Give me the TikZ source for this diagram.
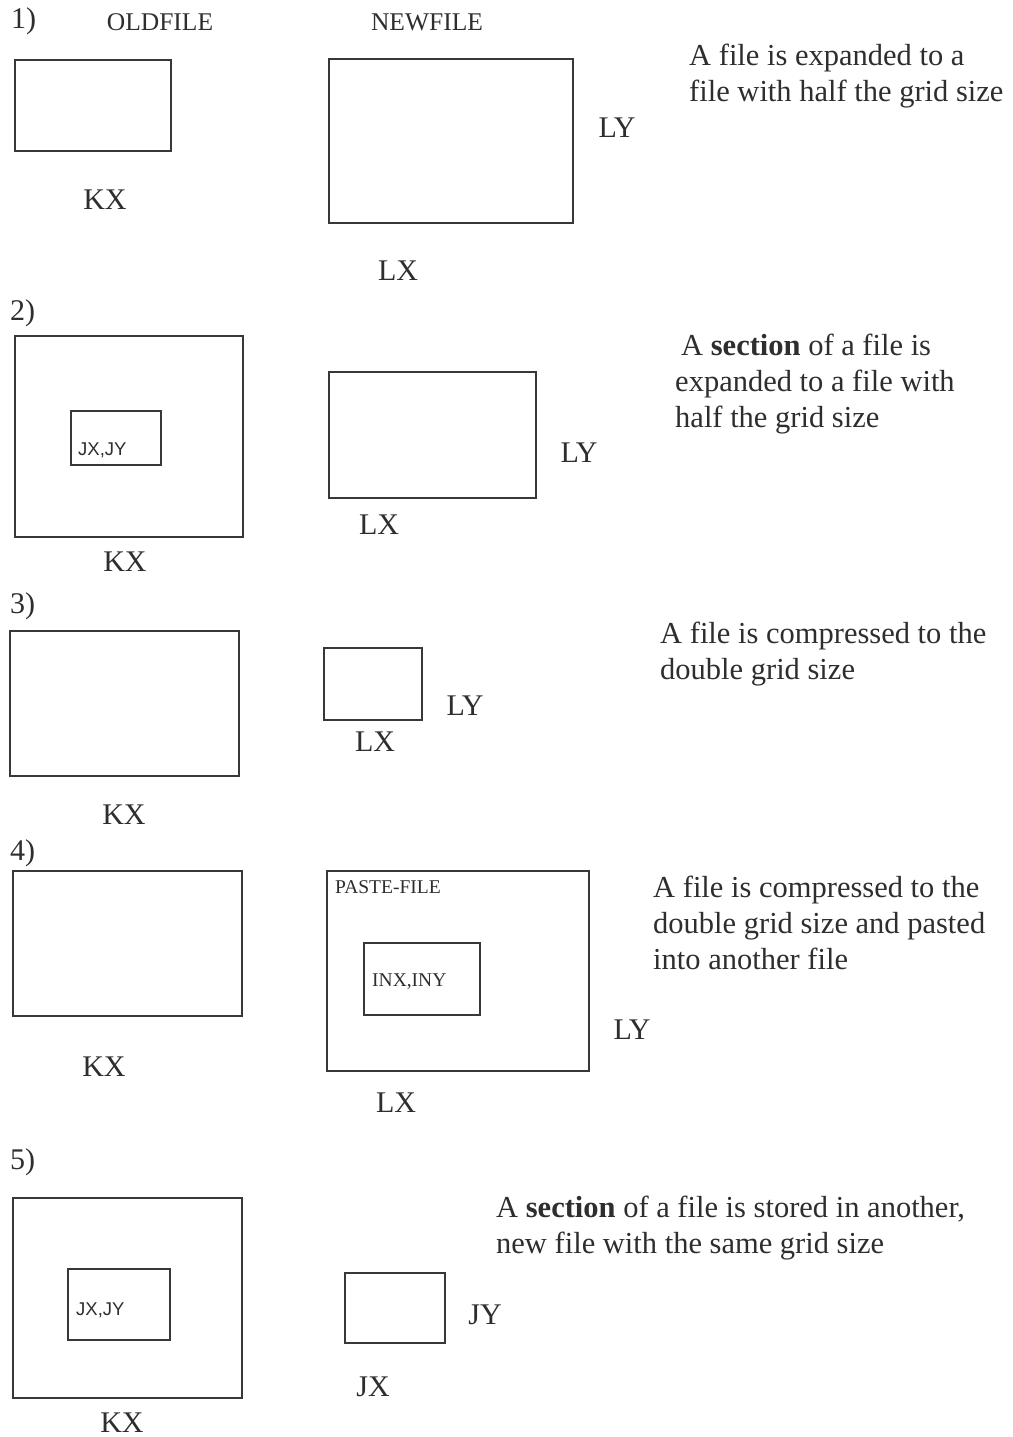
\documentclass[tikz,border=0pt]{standalone}
\usepackage{fontspec}
\setmainfont{Liberation Serif}
\newfontfamily\arialfont{Liberation Sans}
\begin{document}
\begin{tikzpicture}[x=1pt,y=-1pt,
  box/.style={draw=black!78,line width=1.6pt},
  lbl/.style={inner sep=0pt,text=black!82,font=\fontsize{30}{36}\selectfont},
  hdr/.style={inner sep=0pt,text=black!82,font=\fontsize{25.5}{30}\selectfont},
  num/.style={inner sep=0pt,text=black!82,anchor=west,font=\fontsize{30}{36}\selectfont},
  desc/.style={inner sep=0pt,text=black!82,anchor=north west,align=left,font=\fontsize{30.5}{36}\selectfont},
  small/.style={inner sep=0pt,text=black!82,anchor=west,font=\arialfont\fontsize{18.5}{22}\selectfont},
  smallserif/.style={inner sep=0pt,text=black!82,anchor=west,font=\fontsize{19.5}{23}\selectfont}
]
\useasboundingbox (0,0) rectangle (1012,1437);
\fill[white] (0,0) rectangle (1012,1437);

% ---------- 1)
\node[num] (n1) at (11,21) {1)};
\node[hdr] (oldfile) at (160,22) {OLDFILE};
\node[hdr] (newfile) at (427,22) {NEWFILE};
\draw[box] (15,60) rectangle (171,151);
\node[lbl] (kx1) at (105,200) {KX};
\draw[box] (329,59) rectangle (573,223);
\node[lbl] (ly1) at (617,128) {LY};
\node[lbl] (lx1) at (398,271) {LX};
\node[desc] (d1) at (689,44) {A file is expanded to a\\file with half the grid size};

% ---------- 2)
\node[num] (n2) at (10,313) {2)};
\draw[box] (15,336) rectangle (243,537);
\draw[box] (71,411) rectangle (161,465);
\node[small] (jxjy2) at (78,450) {JX,JY};
\node[lbl] (kx2) at (125,562) {KX};
\draw[box] (329,372) rectangle (536,498);
\node[lbl] (ly2) at (579,453) {LY};
\node[lbl] (lx2) at (379,525) {LX};
\node[desc] (d2) at (675,334) {\hspace{6pt}A \textbf{section} of a file is\\expanded to a file with\\half the grid size};

% ---------- 3)
\node[num] (n3) at (10,606) {3)};
\draw[box] (10,631) rectangle (239,776);
\node[lbl] (kx3) at (124,815) {KX};
\draw[box] (324,648) rectangle (422,720);
\node[lbl] (ly3) at (465,706) {LY};
\node[lbl] (lx3) at (375,742) {LX};
\node[desc] (d3) at (660,622) {A file is compressed to the\\double grid size};

% ---------- 4)
\node[num] (n4) at (10,853) {4)};
\draw[box] (13,871) rectangle (242,1016);
\node[lbl] (kx4) at (104,1067) {KX};
\draw[box] (327,871) rectangle (589,1071);
\node[smallserif] (paste) at (335,887) {PASTE-FILE};
\draw[box] (364,943) rectangle (480,1015);
\node[smallserif] (inxiny) at (372,982) {INX,INY};
\node[lbl] (ly4) at (632,1030) {LY};
\node[lbl] (lx4) at (396,1103) {LX};
\node[desc] (d4) at (653,876) {A file is compressed to the\\double grid size and pasted\\into another file};

% ---------- 5)
\node[num] (n5) at (10,1162) {5)};
\draw[box] (13,1198) rectangle (242,1398);
\draw[box] (68,1269) rectangle (170,1340);
\node[small] (jxjy5) at (76,1310) {JX,JY};
\node[lbl] (kx5) at (122,1423) {KX};
\draw[box] (345,1273) rectangle (445,1343);
\node[lbl] (jy5) at (485,1315) {JY};
\node[lbl] (jx5) at (373,1387) {JX};
\node[desc] (d5) at (496,1196) {A \textbf{section} of a file is stored in another,\\new file with the same grid size};
\end{tikzpicture}
\end{document}
